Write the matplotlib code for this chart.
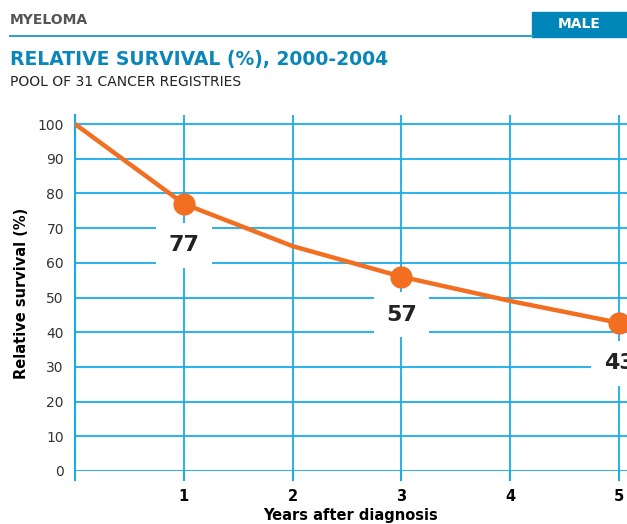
import matplotlib.pyplot as plt
from matplotlib.patches import Rectangle
from matplotlib.lines import Line2D

years = [0, 1, 2, 3, 4, 5]
survival = [100, 77, 64.8, 56, 49, 42.7]
marked_years = [1, 3, 5]
marked_values = [77, 56, 42.7]
marked_labels = ["77", "57", "43"]
label_y = [65, 45, 31]

orange = "#f26f21"
grid_blue = "#1eaae6"
title_blue = "#0a86b8"

fig = plt.figure(figsize=(6.27, 5.24), dpi=100)

# header
fig.text(10 / 627, 1 - 20 / 524, "MYELOMA", fontsize=10, fontweight="bold",
         color="#555555", va="center", ha="left")
fig.add_artist(Line2D([10 / 627, 532 / 627], [1 - 36 / 524] * 2,
                      color="#3b9fc4", lw=1.5))
fig.add_artist(Rectangle((532 / 627, 1 - 37 / 524), 95 / 627, 25 / 524,
                         color="#0086b8", transform=fig.transFigure))
fig.text(579 / 627, 1 - 24 / 524, "MALE", fontsize=10, fontweight="bold",
         color="white", va="center", ha="center")
fig.text(10 / 627, 1 - 60 / 524, "RELATIVE SURVIVAL (%), 2000-2004",
         fontsize=13.5, fontweight="bold", color=title_blue, va="center", ha="left")
fig.text(10 / 627, 1 - 82 / 524, "POOL OF 31 CANCER REGISTRIES",
         fontsize=10, color="#222222", va="center", ha="left")

ax = fig.add_axes([75 / 627, 1 - 471 / 524, 552 / 627, 356 / 524])
ax.set_xlim(0, 5.073)
ax.set_ylim(0, 102.6)

for s in ["top", "right", "bottom"]:
    ax.spines[s].set_visible(False)
ax.spines["left"].set_color(grid_blue)
ax.spines["left"].set_linewidth(1.5)

ax.set_yticks(range(0, 101, 10))
ax.set_xticks([1, 2, 3, 4, 5])
ax.grid(True, color=grid_blue, lw=1.5, alpha=0.9)
ax.set_axisbelow(True)
ax.tick_params(axis="y", length=0, labelsize=10, labelcolor="#333333", pad=8)
ax.tick_params(axis="x", length=7, color=grid_blue, width=1.5,
               labelsize=10.5, pad=6)
for t in ax.get_xticklabels():
    t.set_fontweight("bold")
ax.axvline(0, ymin=-0.025, ymax=1, color=grid_blue, lw=1.5, clip_on=False)

ax.plot(years, survival, color=orange, lw=3.2, solid_capstyle="butt", zorder=3)
ax.plot(marked_years, marked_values, "o", color=orange, ms=15, zorder=4,
        clip_on=False)

for x, y, lab in zip(marked_years, label_y, marked_labels):
    ax.text(x, y, lab, fontsize=16, fontweight="bold", color="#222222",
            ha="center", va="center", zorder=5,
            bbox=dict(facecolor="white", edgecolor="none", pad=9))

ax.set_xlabel("Years after diagnosis", fontsize=10.5, fontweight="bold",
              labelpad=3)
ax.set_ylabel("Relative survival (%)", fontsize=10.5, fontweight="bold",
              labelpad=6)

fig.savefig("out.png", dpi=100)
